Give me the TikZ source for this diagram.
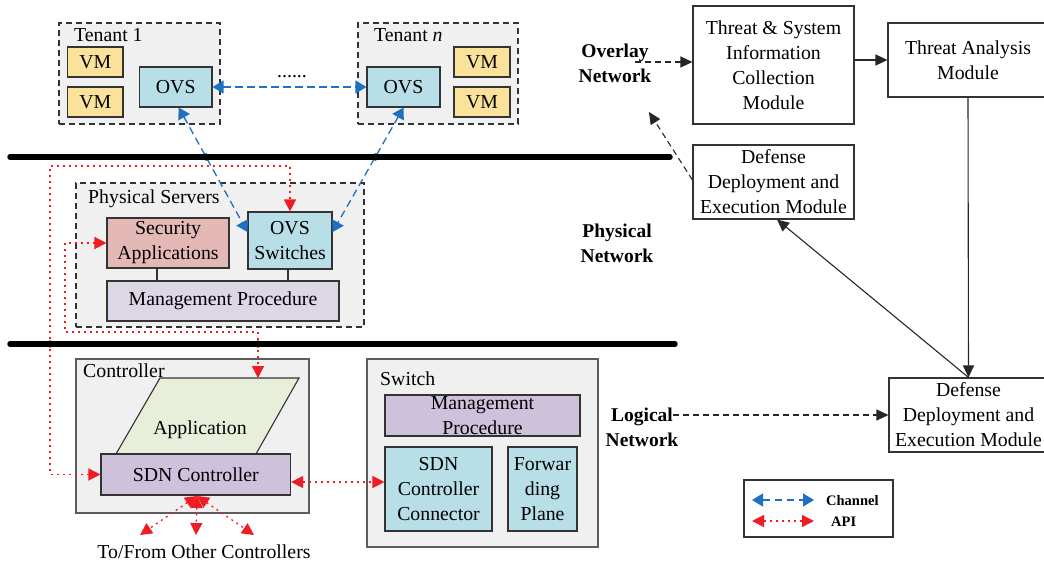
\documentclass[tikz,border=0pt]{standalone}
\usepackage{fontspec}
\setmainfont{Liberation Serif}
\usetikzlibrary{arrows.meta,calc}

\definecolor{panel}{HTML}{EFF0EF}
\definecolor{vmyellow}{HTML}{FBE29B}
\definecolor{ovsblue}{HTML}{B8DEE8}
\definecolor{secpink}{HTML}{E4B8B5}
\definecolor{mgmtlight}{HTML}{DDD6E5}
\definecolor{mgmtdark}{HTML}{CEC1DB}
\definecolor{appgreen}{HTML}{E7EEDA}
\definecolor{chblue}{HTML}{1F70C1}
\definecolor{apired}{HTML}{EE1D23}
\definecolor{edge}{HTML}{333333}

\tikzset{
  txt/.style={font=\fontsize{19.8}{25}\selectfont},
  lbl/.style={txt, inner sep=0pt},
  bold/.style={font=\fontsize{19.5}{25}\selectfont\bfseries, align=center, inner sep=0pt},
  wh/.style 2 args={minimum width=#1pt, minimum height=#2pt},
  box/.style={draw=edge, line width=1.1pt, inner sep=0pt, align=center, txt},
  dashedpanel/.style={draw=edge, line width=1.2pt, dash pattern=on 6pt off 4pt, fill=panel, inner sep=0pt},
  solidpanel/.style={draw=edge!80, line width=1.1pt, fill=panel, inner sep=0pt},
  bus/.style={line width=5.5pt, line cap=round},
  bluetip/.style={Triangle[length=11pt,width=13pt]},
  redtip/.style={Triangle[length=12pt,width=12pt]},
  channel/.style={draw=chblue, line width=1.3pt, dash pattern=on 7.5pt off 4.5pt, {Triangle[length=11pt,width=13pt]}-{Triangle[length=11pt,width=13pt]}},
  api/.style={draw=apired, line width=1.3pt, dash pattern=on 2pt off 4pt, {Triangle[length=12pt,width=12pt]}-{Triangle[length=12pt,width=12pt]}},
  flow/.style={draw=black!85, line width=1.1pt, -{Triangle[length=12pt,width=11pt]}},
  dflow/.style={flow, dash pattern=on 6pt off 4pt},
}

\begin{document}
\begin{tikzpicture}[x=1pt, y=-1pt]
\useasboundingbox (0,0) rectangle (1044,564);

% ---------- tenants (overlay network) ----------
\node[dashedpanel, wh={161}{101}] (tenant1) at (139.5,73.5) {};
\node[dashedpanel, wh={160}{101}] (tenantn) at (438,73.5) {};
\node[lbl, anchor=base west] (t1lbl) at (74,42) {Tenant 1};
\node[lbl, anchor=base west] (tnlbl) at (374,42) {Tenant \textit{n}};

\node[box, fill=vmyellow, wh={55.5}{30}] (vm1a) at (95.25,62) {VM};
\node[box, fill=vmyellow, wh={55.5}{30}] (vm1b) at (95.25,102) {VM};
\node[box, fill=ovsblue, wh={72.5}{40}] (ovs1) at (175.75,87) {OVS};

\node[box, fill=ovsblue, wh={73}{40}] (ovsn) at (403.5,87) {OVS};
\node[box, fill=vmyellow, wh={56}{30}] (vmna) at (482,62) {VM};
\node[box, fill=vmyellow, wh={56}{30}] (vmnb) at (482,102) {VM};

\node[lbl, anchor=base] (dots) at (292,78) {......};

% ---------- network buses ----------
\coordinate (l1w) at (10,157);
\coordinate (l1e) at (670,157);
\coordinate (l2w) at (10,344);
\coordinate (l2e) at (675,344);
\draw[bus] (l1w) -- (l1e);
\draw[bus] (l2w) -- (l2e);

% ---------- physical servers ----------
\node[dashedpanel, wh={288}{144}] (phys) at (220,255) {};
\node[lbl, anchor=base west] (physlbl) at (88,204) {Physical Servers};
\node[box, fill=secpink, wh={122}{50}] (secapp) at (168,243) {Security\\Applications};
\node[box, fill=ovsblue, wh={84}{57}] (ovssw) at (290,240.5) {OVS\\Switches};
\node[box, fill=mgmtlight, wh={232}{40}] (mgmt1) at (223,301) {Management Procedure};
\draw[draw=edge, line width=1.1pt] (secapp.south -| 157,0) -- (mgmt1.north -| 157,0);
\draw[draw=edge, line width=1.1pt] (ovssw.south -| 288,0) -- (mgmt1.north -| 288,0);

% ---------- controller ----------
\node[solidpanel, wh={233}{154}] (ctrl) at (192.5,436) {};
\coordinate (appbl) at (116,454);
\coordinate (apptl) at (160,378);
\coordinate (apptr) at (299,378);
\coordinate (appbr) at (256,454);
\coordinate (apptop) at (258,378);
\filldraw[fill=appgreen, draw=edge, line width=1.1pt] (appbl) -- (apptl) -- (apptr) -- (appbr);
\node[lbl] (applbl) at (200,430) {Application};
\node[lbl, anchor=base west] (ctrllbl) at (83,377) {Controller};
\node[box, fill=mgmtdark, wh={189.6}{41}] (sdn) at (195.8,474.5) {SDN Controller};

% ---------- switch ----------
\node[solidpanel, wh={231}{188}] (switch) at (482.5,453) {};
\node[lbl, anchor=base west] (swlbl) at (380,385) {Switch};
\node[box, fill=mgmtdark, wh={195}{41}, text depth=0pt] (mgmt2) at (482.5,415.5) {Management\\Procedure};
\node[box, fill=ovsblue, wh={107}{84}] (sdncc) at (438.5,489) {SDN\\Controller\\Connector};
\node[box, fill=ovsblue, wh={69}{84}] (fwd) at (542.5,489) {Forwar\\ding\\Plane};

% ---------- channels (blue) ----------
\coordinate (o1s) at ($(ovs1.south)+(3,0)$);
\coordinate (swl) at (ovssw.west |- 0,232);
\coordinate (swr) at (ovssw.east |- 0,232);
\coordinate (ons) at (ovsn.south);
\draw[channel] (ovs1.east) -- (ovsn.west);
\draw[channel] (o1s) -- (swl);
\draw[channel] (ons) -- (swr);

% ---------- API (red) ----------
\draw[api] (sdn.west) -| (50,166) -| (ovssw.north);
\draw[api] (secapp.west) -| (65,332) -| (apptop);
\draw[api] (sdn.east |- 0,482) -- (sdncc.west |- 0,482);
\coordinate (fan) at (197,496);
\coordinate (oc1) at (140,535);
\coordinate (oc2) at (196,535);
\coordinate (oc3) at (254,535);
\draw[api] (fan) -- (oc1);
\draw[api] (fan) -- (oc2);
\draw[api] (fan) -- (oc3);
\node[lbl, anchor=base] (others) at (204,558) {To/From Other Controllers};

% junctions on the buses
\fill (intersection of o1s--swl and l1w--l1e) circle (3.6pt);
\fill (intersection of ons--swr and l1w--l1e) circle (3.6pt);
\fill (50,344) circle (3.6pt);
\fill (258,344) circle (3.6pt);

% ---------- layer labels ----------
\node[bold] (overlay) at (615,63) {Overlay\\Network};
\node[bold] (physnet) at (617,243) {Physical\\Network};
\node[bold] (lognet) at (642,427) {Logical\\Network};

% ---------- security modules ----------
\node[box, wh={161}{118}] (tsic) at (773.5,65) {Threat \& System\\Information\\Collection\\Module};
\node[box, wh={160}{74}] (tam) at (968,60) {Threat Analysis\\Module};
\node[box, wh={161}{74}] (ddem1) at (773.5,182) {Defense\\Deployment and\\Execution Module};
\node[box, wh={159}{74}] (ddem2) at (968.5,415) {Defense\\Deployment and\\Execution Module};

\coordinate (ovsrc) at (635,62);
\coordinate (logsrc) at (673,415);
\coordinate (d1src) at (ddem1.west |- 0,180);
\coordinate (ovtgt) at (649,112);
\coordinate (d1tgt) at ($(ddem1.south)+(3.5,0)$);

\draw[dflow] (ovsrc) -- (tsic.west |- ovsrc);
\draw[flow] (tsic.east |- 0,60) -- (tam.west |- 0,60);
\draw[flow] (tam.south) -- (ddem2.north);
\draw[flow] (ddem2.north) -- (d1tgt);
\draw[dflow] (d1src) -- (ovtgt);
\draw[dflow] (logsrc) -- (ddem2.west |- logsrc);

% ---------- legend ----------
\node[draw=edge, line width=1.1pt, fill=white, wh={149}{57}] (legend) at (818.5,508.5) {};
\coordinate (lc1) at (752,500);
\coordinate (lc2) at (814,500);
\coordinate (la1) at (752,521);
\coordinate (la2) at (814,521);
\draw[channel] (lc1) -- (lc2);
\draw[api] (la1) -- (la2);
\node[font=\fontsize{14.5}{17}\selectfont\bfseries, anchor=west, inner sep=0pt] (chlbl) at (826,501) {Channel};
\node[font=\fontsize{14.5}{17}\selectfont\bfseries, anchor=west, inner sep=0pt] (apilbl) at (831,522) {API};
\end{tikzpicture}
\end{document}
